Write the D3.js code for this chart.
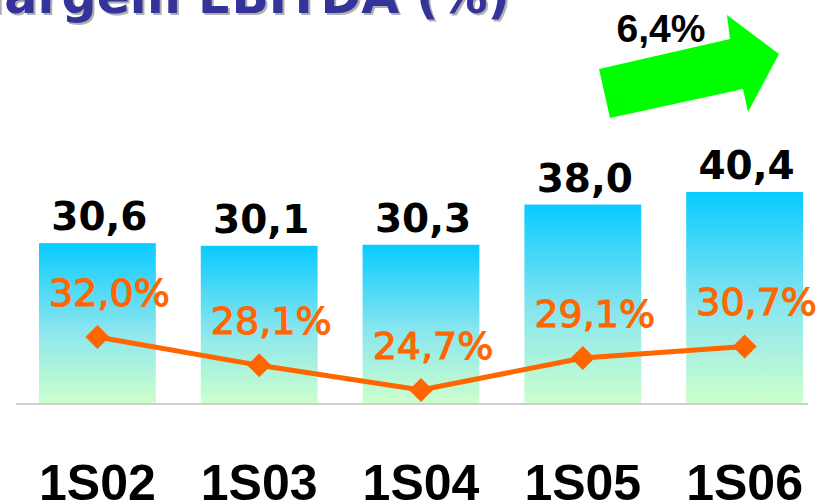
<!DOCTYPE html>
<html>
<head>
<meta charset="utf-8">
<script src="https://cdn.jsdelivr.net/npm/d3@7"></script>
<style>
  html, body { margin: 0; padding: 0; background: #fff; }
  svg { display: block; }
</style>
</head>
<body>
<svg id="chart" width="824" height="501"></svg>
<script>
// ---- data ----
const categories = ["1S02", "1S03", "1S04", "1S05", "1S06"];
const ebitda = [30.6, 30.1, 30.3, 38.0, 40.4];
const margin = [32.0, 28.1, 24.7, 29.1, 30.7];
const ebitdaLabels = ["30,6", "30,1", "30,3", "38,0", "40,4"];
const marginLabels = ["32,0%", "28,1%", "24,7%", "29,1%", "30,7%"];
const titleText = "Margem EBITDA (%)";
const growthText = "6,4%";

const svg = d3.select("#chart");
const baseY = 403;

const x = d3.scaleBand()
  .domain(categories)
  .range([16.5, 825.5])
  .paddingInner(0.278)
  .paddingOuter(0.139);

const yBar = d3.scaleLinear().domain([0, 40.4]).range([baseY, 192]);
const yLine = d3.scaleLinear().domain([20, 40]).range([424.1, 278.9]);

// gradient
const defs = svg.append("defs");
const grad = defs.append("linearGradient")
  .attr("id", "barGrad").attr("x1", 0).attr("y1", 0).attr("x2", 0).attr("y2", 1);
grad.append("stop").attr("offset", "0%").attr("stop-color", "#08CBFF");
grad.append("stop").attr("offset", "55%").attr("stop-color", "#8CE6EE");
grad.append("stop").attr("offset", "100%").attr("stop-color", "#CCFFCC");

// title (mostly cut off at top)
const title = svg.append("g");
title.append("text")
  .attr("x", 512).attr("y", 15)
  .attr("text-anchor", "end")
  .attr("font-family", "DejaVu Sans, Verdana, sans-serif")
  .attr("font-weight", "bold")
  .attr("font-size", 49)
  .attr("fill", "#B0B0B0")
  .text(titleText);
title.append("text")
  .attr("x", 510).attr("y", 13)
  .attr("text-anchor", "end")
  .attr("font-family", "DejaVu Sans, Verdana, sans-serif")
  .attr("font-weight", "bold")
  .attr("font-size", 49)
  .attr("fill", "#333399")
  .text(titleText);

// green arrow annotation
svg.append("path")
  .attr("d", "M610,118 L599,69 L730,39 L727,15 L779,54 L748,112 L743,89 Z")
  .attr("fill", "#00FF00");
svg.append("text")
  .attr("x", 661).attr("y", 42)
  .attr("text-anchor", "middle")
  .attr("font-family", "Liberation Sans, Arial, sans-serif")
  .attr("font-weight", "bold")
  .attr("font-size", 39)
  .attr("fill", "#000")
  .text(growthText);

// bars
svg.append("g").selectAll("rect")
  .data(categories)
  .join("rect")
  .attr("x", d => x(d))
  .attr("width", x.bandwidth())
  .attr("y", (d, i) => yBar(ebitda[i]))
  .attr("height", (d, i) => baseY - yBar(ebitda[i]))
  .attr("fill", "url(#barGrad)");

// bar value labels
svg.append("g").selectAll("text")
  .data(categories)
  .join("text")
  .attr("x", d => x(d) + x.bandwidth() / 2 + 2)
  .attr("y", (d, i) => yBar(ebitda[i]) - 13)
  .attr("text-anchor", "middle")
  .attr("font-family", "DejaVu Sans, Verdana, sans-serif")
  .attr("font-weight", "bold")
  .attr("font-size", 39)
  .attr("fill", "#000")
  .text((d, i) => ebitdaLabels[i]);

// axis line
svg.append("line")
  .attr("x1", 16).attr("x2", 808)
  .attr("y1", baseY + 1).attr("y2", baseY + 1)
  .attr("stroke", "#CFCFCF").attr("stroke-width", 2);

// x axis labels
const xAxis = d3.axisBottom(x).tickSize(0).tickPadding(0);
const ax = svg.append("g").attr("transform", `translate(0,${baseY})`).call(xAxis);
ax.select(".domain").remove();
ax.selectAll("text")
  .attr("y", 97).attr("dy", 0)
  .attr("font-family", "Liberation Sans, Arial, sans-serif")
  .attr("font-weight", "bold")
  .attr("font-size", 50)
  .attr("fill", "#000");

// margin line
const line = d3.line()
  .x((d, i) => x(categories[i]) + x.bandwidth() / 2)
  .y(d => yLine(d));
svg.append("path")
  .datum(margin)
  .attr("d", line)
  .attr("fill", "none")
  .attr("stroke", "#FF6600")
  .attr("stroke-width", 5);

svg.append("g").selectAll("path")
  .data(margin)
  .join("path")
  .attr("transform", (d, i) => `translate(${x(categories[i]) + x.bandwidth() / 2},${yLine(d)})`)
  .attr("d", "M0,-12 L12,0 L0,12 L-12,0 Z")
  .attr("fill", "#FF6600");

// margin labels
svg.append("g").selectAll("text")
  .data(margin)
  .join("text")
  .attr("x", (d, i) => x(categories[i]) + x.bandwidth() / 2 + 12)
  .attr("y", d => yLine(d) - 31)
  .attr("text-anchor", "middle")
  .attr("font-family", "DejaVu Sans, Verdana, sans-serif")
  .attr("font-size", 38)
  .attr("fill", "#FF6600")
  .attr("stroke", "#FF6600")
  .attr("stroke-width", 1.1)
  .text((d, i) => marginLabels[i]);
</script>
</body>
</html>
